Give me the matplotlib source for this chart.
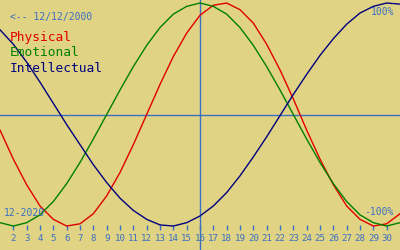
import numpy as np
import matplotlib
matplotlib.use('Agg')
import matplotlib.pyplot as plt

days = list(range(1, 32))

physical = [-0.14, -0.40, -0.63, -0.82, -0.94, -1.00, -0.98, -0.89, -0.73, -0.52,
            -0.27, 0.00, 0.27, 0.52, 0.73, 0.89, 0.98, 1.00, 0.94, 0.82,
            0.63, 0.40, 0.14, -0.14, -0.40, -0.63, -0.82, -0.94, -1.00, -0.98,
            -0.89]
emotional = [-0.97, -1.00, -0.97, -0.90, -0.78, -0.62, -0.43, -0.22, 0.00, 0.22,
             0.43, 0.62, 0.78, 0.90, 0.97, 1.00, 0.97, 0.90, 0.78, 0.62,
             0.43, 0.22, 0.00, -0.22, -0.43, -0.62, -0.78, -0.90, -0.97, -1.00,
             -0.97]
intellectual = [0.76, 0.63, 0.47, 0.29, 0.10, -0.09, -0.27, -0.45, -0.61, -0.75,
                -0.86, -0.94, -0.99, -1.00, -0.97, -0.91, -0.82, -0.70, -0.55, -0.38,
                -0.20, -0.01, 0.18, 0.36, 0.53, 0.68, 0.81, 0.91, 0.97, 1.00,
                0.99]

tick_days = list(range(2, 31))
today = 16
date_label = '<-- 12/12/2000'
month_label = '12-2020'

bg = '#e0d384'
blue = '#3a6fc4'

fig = plt.figure(figsize=(4, 2.5), dpi=100, facecolor=bg)
ax = fig.add_axes([0, 0, 1, 1], facecolor=bg)
ax.set_xlim(1, 31)
ax.set_ylim(-1.215, 1.027)

ax.axhline(0, color=blue, lw=1)
ax.axvline(today, color=blue, lw=1)

ax.plot(days, physical, color='#e00000', lw=1)
ax.plot(days, emotional, color='#008000', lw=1)
ax.plot(days, intellectual, color='#000080', lw=1)

for s in ax.spines.values():
    s.set_visible(False)
ax.spines['bottom'].set_position(('data', -1.036))
ax.set_yticks([])
ax.set_xticks(tick_days)
ax.set_xticklabels([str(d) for d in tick_days])
ax.tick_params(axis='x', direction='in', length=3.8, width=1, color=blue,
               labelcolor=blue, labelsize=6.6, pad=3)
for lab in ax.get_xticklabels():
    lab.set_family('DejaVu Sans Mono')

mono = 'DejaVu Sans Mono'
ax.text(0.025, 0.932, date_label, transform=ax.transAxes, color=blue,
        fontsize=7, family=mono, va='center', ha='left')
ax.text(0.025, 0.848, 'Physical', transform=ax.transAxes, color='#e00000',
        fontsize=9.3, family=mono, va='center', ha='left')
ax.text(0.025, 0.788, 'Emotional', transform=ax.transAxes, color='#008000',
        fontsize=9.3, family=mono, va='center', ha='left')
ax.text(0.025, 0.728, 'Intellectual', transform=ax.transAxes, color='#000080',
        fontsize=9.3, family=mono, va='center', ha='left')
ax.text(0.985, 0.952, '100%', transform=ax.transAxes, color=blue,
        fontsize=7, family=mono, va='center', ha='right')
ax.text(0.985, 0.152, '-100%', transform=ax.transAxes, color=blue,
        fontsize=7, family=mono, va='center', ha='right')
ax.text(0.01, 0.148, month_label, transform=ax.transAxes, color=blue,
        fontsize=7, family=mono, va='center', ha='left')

fig.savefig('out.png', dpi=100, facecolor=bg)
